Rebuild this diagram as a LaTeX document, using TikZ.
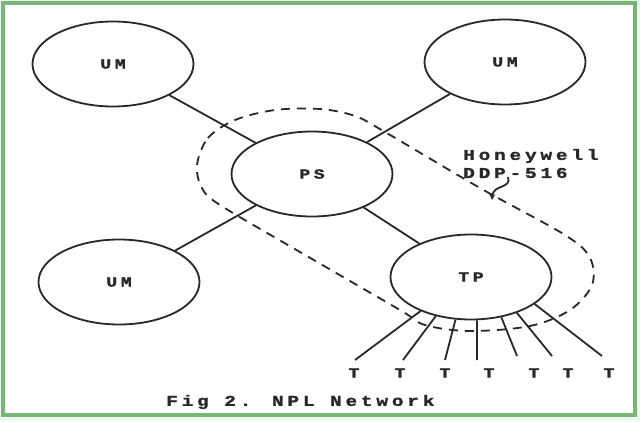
\documentclass[tikz,border=0pt]{standalone}
\usepackage{fontspec}
\newfontfamily\tfont[LetterSpace=25, FakeStretch=1.3, BoldFont={Liberation Mono Bold}, BoldFeatures={FakeBold=1.5}]{Liberation Mono}
\usetikzlibrary{shapes.geometric,arrows.meta}
\definecolor{framegreen}{RGB}{120,182,120}
\definecolor{ink}{RGB}{40,40,40}
\begin{document}
\begin{tikzpicture}[x=1pt,y=-1pt,
  unit/.style={draw=ink, line width=1.8pt, ellipse, minimum width=161pt, minimum height=85pt, inner sep=0pt, text=ink, font=\tfont\bfseries\fontsize{14}{16}\selectfont},
  link/.style={draw=ink, line width=1.8pt},
  loop/.style={draw=ink, line width=1.8pt, dash pattern=on 9pt off 7pt},
  lbl/.style={text=ink, inner sep=0pt, font=\tfont\bfseries\fontsize{15}{17}\selectfont},
  tlbl/.style={text=ink, inner sep=0pt, font=\tfont\bfseries\fontsize{14}{16}\selectfont}]
\useasboundingbox (0,0) rectangle (640,421);
\fill[framegreen!12] (0,0) rectangle (640,421);
\fill[white] (2.5,2.5) rectangle (634.5,414.5);
\draw[framegreen, line width=4pt] (2.5,2.5) rectangle (634.5,414.5);

% nodes
\node[unit] (um1) at (113,64) {UM};
\node[unit] (um2) at (505,62) {UM};
\node[unit] (ps)  at (312,174) {PS};
\node[unit] (um3) at (119,282) {UM};
\node[unit] (tp)  at (471,277) {TP};

% links
\draw[link] (um1) -- (ps);
\draw[link] (um2) -- (ps);
\draw[link] (ps) -- (um3);
\draw[link] (ps) -- (tp);

% terminals
\coordinate (e1) at (355,360);
\coordinate (e2) at (403,360);
\coordinate (e3) at (445,360);
\coordinate (e4) at (477,360);
\coordinate (e5) at (517,356);
\coordinate (e6) at (552,356);
\coordinate (e7) at (602,356);
\draw[link] (tp.214) -- (e1);
\draw[link] (tp.228) -- (e2);
\draw[link] (tp.250) -- (e3);
\draw[link] (tp.278) -- (e4);
\draw[link] (tp.307) -- (e5);
\draw[link] (tp.322) -- (e6);
\draw[link] (tp.337) -- (e7);
\node[tlbl] (t1) at (354,373) {T};
\node[tlbl] (t2) at (400,373) {T};
\node[tlbl] (t3) at (445,373) {T};
\node[tlbl] (t4) at (489,373) {T};
\node[tlbl] (t5) at (534,373) {T};
\node[tlbl] (t6) at (568,373) {T};
\node[tlbl] (t7) at (609,373) {T};

% dashed boundary around PS and TP
\draw[loop] plot[smooth cycle, tension=0.55] coordinates {
  (197,165) (208,138) (235,120) (275,110) (320,109) (355,116) (385,132)
  (480,188) (565,235) (590,258) (592,285) (570,310) (530,326) (470,331)
  (425,325) (400,310) (300,252) (220,205) (202,188)};

% label
\node[lbl, anchor=west] (hw) at (463,156) {Honeywell};
\node[lbl, anchor=west] (ddp) at (463,173) {DDP-516};
\coordinate (sq1) at (508,177);
\coordinate (sq2) at (492,200);
\draw[ink, line width=1.8pt, -{Stealth[length=6pt,width=6pt]}] (sq1) .. controls (512,189) and (493,184) .. (sq2);

% caption
\node[lbl, anchor=west] (cap) at (166,402) {Fig 2. NPL Network};
\end{tikzpicture}
\end{document}
